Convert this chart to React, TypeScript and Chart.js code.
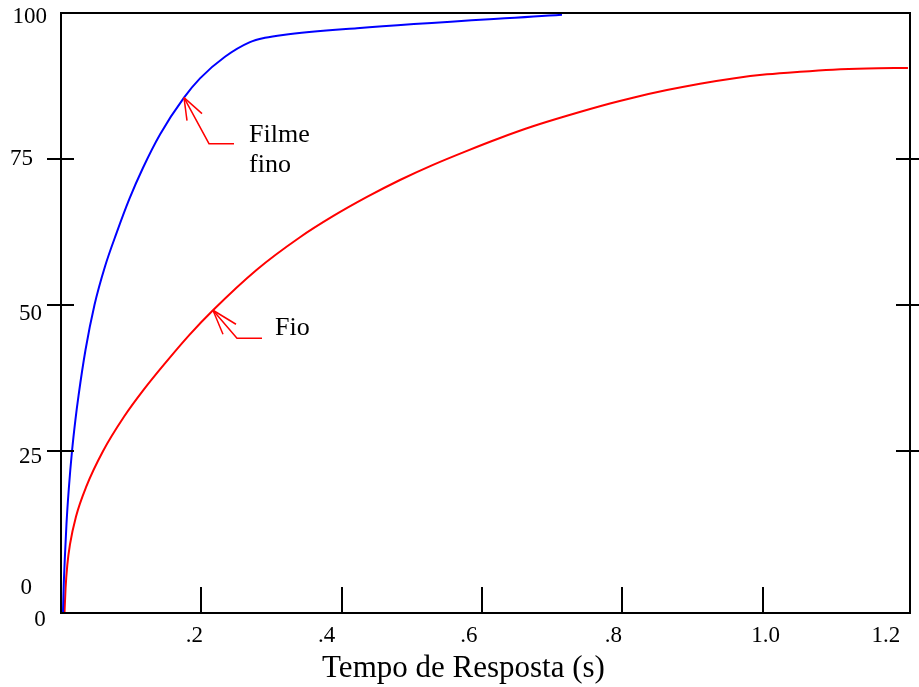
import React, { useEffect, useRef } from "react";
import { Chart, registerables } from "chart.js";

Chart.register(...registerables);

// ---- data ----
const blueX = [0.0028, 0.0036, 0.0056, 0.0078, 0.0111, 0.0157, 0.0205, 0.0250, 0.0349, 0.0477, 0.0627, 0.0791, 0.0976, 0.1169, 0.1411, 0.1753, 0.1981, 0.2337, 0.2693, 0.2907, 0.3164, 0.4218, 0.714];
const blueY = [-2.7, 1.0, 7.0, 12.5, 18.5, 25.0, 30.3, 34.5, 42.3, 50.0, 56.6, 62.3, 68.2, 73.5, 79.2, 85.5, 88.8, 92.5, 95.0, 95.75, 96.25, 97.4, 99.7];

const redX = [0.0050, 0.0065, 0.0090, 0.0128, 0.0214, 0.036, 0.060, 0.0900, 0.1179, 0.1482, 0.1824, 0.2166, 0.2786, 0.3406, 0.3876, 0.4361, 0.4831, 0.5302, 0.5786, 0.6257, 0.6726, 0.7211, 0.7824, 0.8152, 0.8636, 0.9107, 0.9577, 1.0061, 1.0532, 1.1002, 1.1487, 1.2071];
const redY = [-2.7, 1.5, 5.5, 9.0, 13.8, 18.9, 25.0, 30.9, 35.5, 40.0, 44.8, 49.1, 56.0, 61.6, 65.2, 68.5, 71.4, 74.0, 76.4, 78.6, 80.6, 82.4, 84.5, 85.5, 86.8, 87.9, 88.8, 89.5, 89.95, 90.3, 90.5, 90.6];

const xTickValues = [0.2, 0.4, 0.6, 0.8, 1.0];
const xLabelValues = [0, 0.2, 0.4, 0.6, 0.8, 1.0, 1.2];
const xLabelTexts = ["0", ".2", ".4", ".6", ".8", "1.0", "1.2"];
const yTickValues = [25, 50, 75];
const yLabelValues = [100, 75, 50, 25, 0];
const yLabelTexts = ["100", "75", "50", "25", "0"];
const xTitle = "Tempo de Resposta (s)";

const annotations = [
  { text: ["Filme", "fino"], x: 0.1753, y: 85.5 },
  { text: ["Fio"], x: 0.2166, y: 49.1 },
];

// ---- styling helpers (pixel nudges for label placement) ----
const xLabelDx = [-21, -7, -15, -13, -9, 3, -17];
const xLabelDy = [7, 23, 23, 23, 23, 23, 23];
const yLabelRight = [47, 33, 42, 42, 32];
const yLabelDy = [4, 0, 9, 6, -9];

const SERIF = '"Liberation Serif", "Times New Roman", serif';

const framePlugin = {
  id: "frameAxes",
  afterDatasetsDraw(chart: any) {
    const { ctx, chartArea: a, scales } = chart;
    const xs = scales.x;
    const ys = scales.y;
    const line = (x1: number, y1: number, x2: number, y2: number) => {
      ctx.beginPath();
      ctx.moveTo(x1, y1);
      ctx.lineTo(x2, y2);
      ctx.stroke();
    };
    ctx.save();
    ctx.strokeStyle = "#000";
    ctx.lineWidth = 2;
    ctx.strokeRect(a.left, a.top, a.right - a.left, a.bottom - a.top);
    yTickValues.forEach((v) => {
      const py = Math.round(ys.getPixelForValue(v));
      line(a.left - 14, py, a.left + 13, py);
      line(a.right - 14, py, a.right + 10, py);
    });
    xTickValues.forEach((v) => {
      const px = Math.round(xs.getPixelForValue(v));
      line(px, a.bottom, px, a.bottom - 26);
    });

    ctx.fillStyle = "#000";
    ctx.font = `23px ${SERIF}`;
    ctx.textBaseline = "middle";
    ctx.textAlign = "right";
    yLabelValues.forEach((v, i) => {
      const py = ys.getPixelForValue(v);
      ctx.fillText(yLabelTexts[i], yLabelRight[i], py + yLabelDy[i]);
    });
    ctx.textAlign = "center";
    xLabelValues.forEach((v, i) => {
      const px = xs.getPixelForValue(v);
      ctx.fillText(xLabelTexts[i], px + xLabelDx[i], a.bottom + xLabelDy[i]);
    });
    ctx.font = `31px ${SERIF}`;
    ctx.fillText(xTitle, (a.left + a.right) / 2 - 22, a.bottom + 56);

    // annotations with arrows
    ctx.strokeStyle = "#ff0000";
    ctx.lineWidth = 1.5;
    ctx.font = `26px ${SERIF}`;
    ctx.textAlign = "left";
    annotations.forEach((an, k) => {
      const tx = xs.getPixelForValue(an.x);
      const ty = ys.getPixelForValue(an.y);
      const sx = k === 0 ? 25 : 24;
      const sy = k === 0 ? 46 : 28;
      ctx.beginPath();
      ctx.moveTo(tx, ty);
      ctx.lineTo(tx + sx, ty + sy);
      ctx.lineTo(tx + sx + 25, ty + sy);
      ctx.stroke();
      const h1 = k === 0 ? [3, 23] : [10, 24];
      const h2 = k === 0 ? [18, 16] : [23, 14];
      line(tx, ty, tx + h1[0], ty + h1[1]);
      line(tx, ty, tx + h2[0], ty + h2[1]);
      ctx.fillStyle = "#000";
      if (k === 0) {
        ctx.fillText(an.text[0], tx + 65, ty + 37);
        ctx.fillText(an.text[1], tx + 65, ty + 67);
      } else {
        ctx.fillText(an.text[0], tx + 62, ty + 18);
      }
    });
    ctx.restore();
  },
};

export default function App() {
  const ref = useRef<HTMLCanvasElement | null>(null);
  useEffect(() => {
    document.body.style.margin = "0";
    const canvas = ref.current!;
    const chart = new Chart(canvas, {
      type: "scatter",
      data: {
        datasets: [
          {
            label: "Filme fino",
            data: blueX.map((x, i) => ({ x, y: blueY[i] })),
            showLine: true,
            borderColor: "#0000ff",
            borderWidth: 2,
            pointRadius: 0,
            cubicInterpolationMode: "monotone",
          },
          {
            label: "Fio",
            data: redX.map((x, i) => ({ x, y: redY[i] })),
            showLine: true,
            borderColor: "#ff0000",
            borderWidth: 2,
            pointRadius: 0,
            cubicInterpolationMode: "monotone",
          },
        ],
      },
      options: {
        responsive: false,
        animation: false,
        devicePixelRatio: 1,
        layout: { padding: { left: 61, right: 9, top: 13, bottom: 74 } },
        scales: {
          x: { type: "linear", min: 0, max: 1.21, display: false },
          y: { type: "linear", min: -2.74, max: 100, display: false },
        },
        plugins: { legend: { display: false }, tooltip: { enabled: false } },
      },
      plugins: [framePlugin],
    } as any);
    return () => chart.destroy();
  }, []);
  return <canvas ref={ref} width={919} height={687} style={{ display: "block" }} />;
}
